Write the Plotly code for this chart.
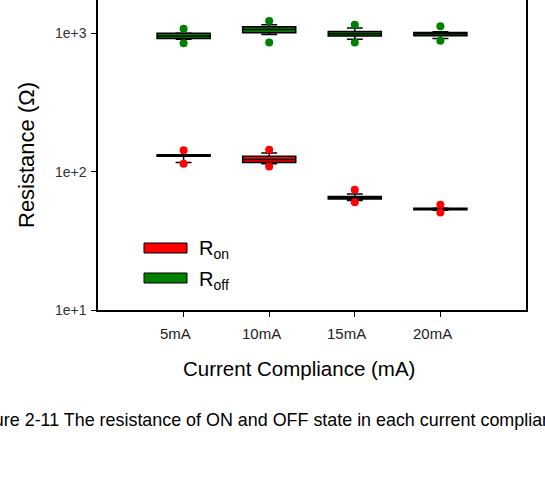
import plotly.graph_objects as go

categories = ["5mA", "10mA", "15mA", "20mA"]

# R_off box statistics (ohm)
off_q1 = [916, 1011, 955, 962]
off_med = [955, 1064, 995, 993]
off_q3 = [1000, 1118, 1033, 1016]
off_lo = [905, 980, 905, 916]
off_hi = [1005, 1156, 1094, 1028]
off_out_x = ["5mA", "5mA", "10mA", "10mA", "15mA", "15mA", "20mA", "20mA"]
off_out_y = [1081, 847, 1228, 857, 1156, 857, 1125, 885]

# R_on box statistics (ohm)
on_q1 = [129.4, 116.7, 63.4, 53.0]
on_med = [131.0, 122.2, 64.8, 53.7]
on_q3 = [132.8, 129.5, 66.2, 54.3]
on_lo = [116.7, 114.3, 61.9, 52.6]
on_hi = [132.8, 136.7, 68.9, 54.6]
on_out_x = ["5mA", "5mA", "10mA", "10mA", "15mA", "15mA", "20mA", "20mA"]
on_out_y = [142.6, 114.3, 144.3, 109.2, 74.1, 60.0, 57.7, 50.7]

y_tickvals = [10, 100, 1000]
y_ticktext = ["1e+1", "1e+2", "1e+3"]

FONT = "Liberation Sans, Arial, sans-serif"
L, R, T, B = 98, 19, 0, 183
W, H = 545, 493
PW, PH = W - L - R, H - T - B

def px_x(p):
    return (p - L) / PW

def px_y(p):
    return (H - B - p) / PH

fig = go.Figure()
fig.add_trace(go.Box(
    x=categories, q1=off_q1, median=off_med, q3=off_q3,
    lowerfence=off_lo, upperfence=off_hi,
    fillcolor="#008000", line=dict(color="black", width=1.5),
    width=0.62, whiskerwidth=0.3, boxpoints=False, showlegend=False, name="R_off"))
fig.add_trace(go.Box(
    x=categories, q1=on_q1, median=on_med, q3=on_q3,
    lowerfence=on_lo, upperfence=on_hi,
    fillcolor="#ff0000", line=dict(color="black", width=1.5),
    width=0.62, whiskerwidth=0.3, boxpoints=False, showlegend=False, name="R_on"))
fig.add_trace(go.Scatter(x=off_out_x, y=off_out_y, mode="markers",
                         marker=dict(color="#008000", size=8), showlegend=False))
fig.add_trace(go.Scatter(x=on_out_x, y=on_out_y, mode="markers",
                         marker=dict(color="#ff0000", size=8), showlegend=False))

fig.update_layout(
    width=W, height=H, margin=dict(l=L, r=R, t=T, b=B),
    paper_bgcolor="white", plot_bgcolor="white",
    boxmode="overlay",
    font=dict(family=FONT, color="#222"),
    xaxis=dict(categoryorder="array", categoryarray=categories,
               range=[-1, 4], showline=True, linecolor="black", linewidth=1.5,
               mirror=False, ticks="outside", ticklen=5, tickcolor="black",
               showticklabels=False, showgrid=False, zeroline=False),
    yaxis=dict(type="log", range=[1, 3.241], showline=True, linecolor="black",
               linewidth=1.5, mirror=True, ticks="outside", ticklen=5,
               tickcolor="black", tickvals=y_tickvals, ticktext=y_ticktext,
               tickfont=dict(size=14, family=FONT, color="#333"), showgrid=False,
               zeroline=False, ticklabelstandoff=2),
)

# x tick labels (slightly left of ticks, as in the original)
for c in categories:
    fig.add_annotation(text=c, xref="x", yref="paper", x=c, y=px_y(333),
                       xanchor="center", yanchor="middle", xshift=-8,
                       showarrow=False, font=dict(size=15, family=FONT, color="#222"))

# axis titles
fig.add_annotation(text="Resistance (Ω)", textangle=-90, xref="paper", yref="paper",
                   x=px_x(26), y=px_y(155), xanchor="center", yanchor="middle",
                   showarrow=False, font=dict(size=22, family=FONT, color="black"))
fig.add_annotation(text="Current Compliance (mA)", xref="paper", yref="paper",
                   x=px_x(299), y=px_y(368), xanchor="center", yanchor="middle",
                   showarrow=False, font=dict(size=20.5, family=FONT, color="black"))

# legend
for (y0, y1, col, lab, ty) in [(243, 253, "#ff0000", "R<sub>on</sub>", 250),
                                (273, 283, "#008000", "R<sub>off</sub>", 280)]:
    fig.add_shape(type="rect", xref="paper", yref="paper",
                  x0=px_x(144), x1=px_x(187), y0=px_y(y1), y1=px_y(y0),
                  fillcolor=col, line=dict(color="black", width=1))
    fig.add_annotation(text=lab, xref="paper", yref="paper", xanchor="left",
                       yanchor="middle", x=px_x(197), y=px_y(ty), showarrow=False,
                       font=dict(size=20, family=FONT, color="black"))

# caption
fig.add_annotation(text="Figure 2-11 The resistance of ON and OFF state in each current compliance",
                   xref="paper", yref="paper", xanchor="left", yanchor="middle",
                   x=px_x(-33), y=px_y(420), showarrow=False,
                   font=dict(size=17.9, family=FONT, color="black"))

fig.write_html("out.html")
